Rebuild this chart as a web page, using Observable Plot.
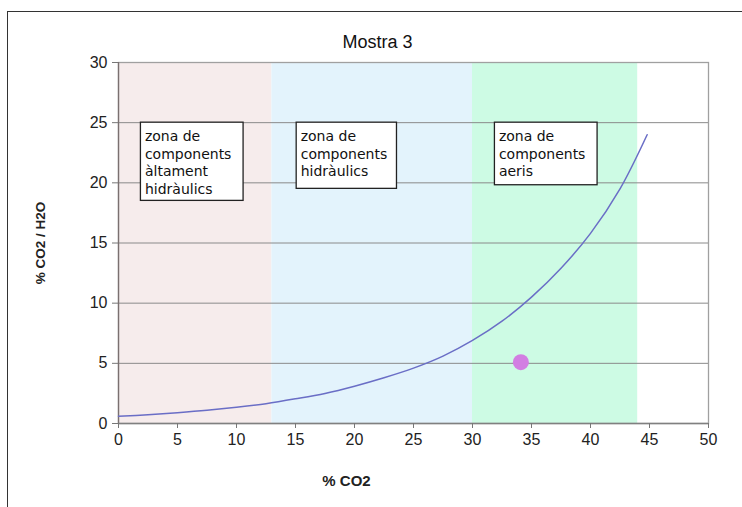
<!DOCTYPE html>
<html>
<head>
<meta charset="utf-8">
<script src="https://cdn.jsdelivr.net/npm/d3@7"></script>
<script src="https://cdn.jsdelivr.net/npm/@observablehq/plot@0.6"></script>
<style>
  html, body { margin: 0; padding: 0; background: #fff; }
  #wrap { position: relative; width: 742px; height: 507px; overflow: hidden; }
  #border { position: absolute; left: 7px; top: 11px; width: 760px; height: 520px;
            border-left: 1.5px solid #333; border-top: 1.5px solid #333; pointer-events: none; }
  svg { position: absolute; left: 0; top: 0; }
</style>
</head>
<body>
<div id="wrap"><div id="border"></div></div>
<script>
const title = "Mostra 3";
const xLabel = "% CO2";
const yLabel = "% CO2 / H2O";

const xTicks = [0, 5, 10, 15, 20, 25, 30, 35, 40, 45, 50];
const yTicks = [0, 5, 10, 15, 20, 25, 30];

// zones (x ranges)
const zoneStart = [0, 13, 30];
const zoneEnd = [13, 30, 44];
const zoneColor = ["#f6ecec", "#e3f3fc", "#cdfbe4"];

// curve
const curveX = [0, 2.5, 5, 7.5, 10, 12.5, 15, 17.5, 20, 22.5, 25, 27.5, 30, 32.5, 35, 37.5, 40, 42.5, 44.8];
const curveY = [0.6, 0.73, 0.9, 1.1, 1.35, 1.65, 2.05, 2.5, 3.1, 3.8, 4.6, 5.6, 6.9, 8.5, 10.5, 12.9, 15.8, 19.5, 24];

// measured point
const pointX = [34.1];
const pointY = [5.1];

// annotation boxes
const noteText = ["zona de\ncomponents\nàltament\nhidràulics", "zona de\ncomponents\nhidràulics", "zona de\ncomponents\naeris"];
const noteX1 = [1.9, 15.1, 31.9];
const noteX2 = [10.6, 23.6, 40.6];
const noteY1 = [25, 25, 25];
const noteY2 = [18.5, 19.5, 19.8];

const zones = zoneStart.map((s, i) => ({s, e: zoneEnd[i], c: zoneColor[i]}));
const curve = curveX.map((x, i) => ({x, y: curveY[i]}));
const points = pointX.map((x, i) => ({x, y: pointY[i]}));
const notes = noteText.map((t, i) => ({t, x1: noteX1[i], x2: noteX2[i], y1: noteY1[i], y2: noteY2[i]}));

const chart = Plot.plot({
  width: 742,
  height: 507,
  marginLeft: 118,
  marginRight: 34,
  marginTop: 62,
  marginBottom: 84,
  style: {fontFamily: "'Liberation Sans', Arial, sans-serif", fontSize: "16px", background: "transparent", color: "#222"},
  x: {domain: [0, 50]},
  y: {domain: [0, 30]},
  marks: [
    Plot.rect(zones, {x1: "s", x2: "e", fill: "c"}),
    Plot.ruleY(yTicks.slice(1), {stroke: "#8a8a8a", strokeWidth: 1}),
    Plot.frame({stroke: "#a0a0a0", strokeWidth: 1.3}),
    Plot.ruleX([0], {stroke: "#7a7070", strokeWidth: 1.3}),
    Plot.ruleY([0], {stroke: "#808080", strokeWidth: 1.3}),
    Plot.axisX({ticks: xTicks, tickSize: 5, tickPadding: 5, fontSize: 16, label: null, stroke: "#777"}),
    Plot.axisY({ticks: yTicks, tickSize: 6, tickPadding: 5, fontSize: 16, label: null, stroke: "#777"}),
    Plot.line(curve, {x: "x", y: "y", stroke: "#6a6ec6", strokeWidth: 1.5, curve: "catmull-rom"}),
    Plot.dot(points, {x: "x", y: "y", r: 8, fill: "#d27ee2", stroke: "none"}),
    Plot.rect(notes, {x1: "x1", x2: "x2", y1: "y1", y2: "y2", fill: "white", stroke: "#222", strokeWidth: 1.3}),
    Plot.text(notes, {x: "x1", y: "y1", text: "t", textAnchor: "start", lineAnchor: "top",
      dx: 4, dy: 6, fontSize: 14, lineHeight: 1.25, fontFamily: "'DejaVu Sans', sans-serif", fill: "#111"}),
    Plot.text([title], {frameAnchor: "top", dx: -36, dy: -27, text: d => d, fontSize: 18, fill: "#111"}),
    Plot.text([xLabel], {frameAnchor: "bottom", dx: -67, dy: 62, text: d => d, fontSize: 15, fontWeight: "bold", fill: "#222"}),
    Plot.text([yLabel], {frameAnchor: "left", textAnchor: "middle", dx: -78, dy: 0, rotate: -90, text: d => d, fontSize: 13.5, fontWeight: "bold", fill: "#222"})
  ]
});
document.getElementById("wrap").appendChild(chart);
</script>
</body>
</html>
